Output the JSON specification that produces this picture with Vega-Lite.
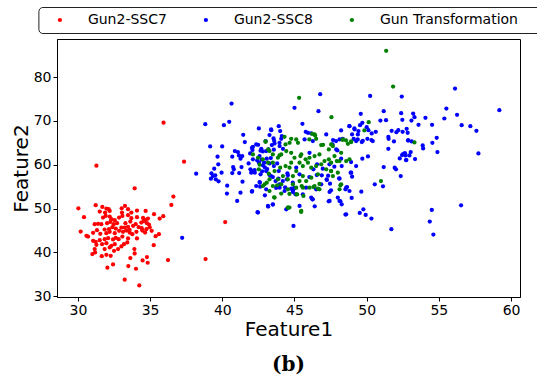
{
"$schema": "https://vega.github.io/schema/vega-lite/v6.json",
"width": 463, "height": 258,
"autosize": {"type": "none"},
"padding": {"left": 57, "top": 39, "right": 17, "bottom": 81},
"background": "white",
"config": {
  "view": {"stroke": "black", "strokeWidth": 1},
  "font": "DejaVu Sans",
  "axis": {"grid": false, "domainColor": "black", "tickColor": "black", "tickSize": 4, "labelFont": "DejaVu Sans", "labelFontSize": 14, "labelColor": "black", "labelPadding": 2, "titleFont": "DejaVu Sans", "titleFontSize": 20, "titleFontWeight": "normal", "titleColor": "black"}
},
"title": {"text": "(b)", "orient": "bottom", "anchor": "middle", "font": "DejaVu Serif", "fontSize": 20, "fontWeight": "bold", "color": "black", "offset": 16},
"data": {"values": [
{"s":"Gun2-SSC7","x":31.23,"y":50.75},{"s":"Gun2-SSC7","x":31.69,"y":50.37},{"s":"Gun2-SSC7","x":32.13,"y":49.84},{"s":"Gun2-SSC7","x":31.97,"y":50.0},{"s":"Gun2-SSC7","x":32.2,"y":49.46},{"s":"Gun2-SSC7","x":31.51,"y":49.3},{"s":"Gun2-SSC7","x":31.88,"y":49.08},{"s":"Gun2-SSC7","x":33.03,"y":50.06},{"s":"Gun2-SSC7","x":33.26,"y":50.59},{"s":"Gun2-SSC7","x":33.47,"y":49.84},{"s":"Gun2-SSC7","x":33.05,"y":49.08},{"s":"Gun2-SSC7","x":33.7,"y":49.08},{"s":"Gun2-SSC7","x":34.09,"y":49.53},{"s":"Gun2-SSC7","x":34.69,"y":49.46},{"s":"Gun2-SSC7","x":33.47,"y":48.47},{"s":"Gun2-SSC7","x":31.74,"y":47.94},{"s":"Gun2-SSC7","x":31.92,"y":48.32},{"s":"Gun2-SSC7","x":32.2,"y":48.17},{"s":"Gun2-SSC7","x":32.32,"y":47.56},{"s":"Gun2-SSC7","x":32.55,"y":47.33},{"s":"Gun2-SSC7","x":32.85,"y":47.94},{"s":"Gun2-SSC7","x":33.08,"y":48.32},{"s":"Gun2-SSC7","x":33.7,"y":47.79},{"s":"Gun2-SSC7","x":34.09,"y":48.01},{"s":"Gun2-SSC7","x":34.51,"y":47.86},{"s":"Gun2-SSC7","x":34.69,"y":47.41},{"s":"Gun2-SSC7","x":34.85,"y":47.71},{"s":"Gun2-SSC7","x":35.27,"y":48.7},{"s":"Gun2-SSC7","x":35.66,"y":47.71},{"s":"Gun2-SSC7","x":35.91,"y":48.24},{"s":"Gun2-SSC7","x":30.42,"y":48.01},{"s":"Gun2-SSC7","x":31.16,"y":46.42},{"s":"Gun2-SSC7","x":31.39,"y":46.5},{"s":"Gun2-SSC7","x":31.62,"y":46.42},{"s":"Gun2-SSC7","x":32.02,"y":46.65},{"s":"Gun2-SSC7","x":32.25,"y":46.95},{"s":"Gun2-SSC7","x":32.48,"y":46.42},{"s":"Gun2-SSC7","x":32.71,"y":46.65},{"s":"Gun2-SSC7","x":33.29,"y":46.65},{"s":"Gun2-SSC7","x":33.63,"y":47.03},{"s":"Gun2-SSC7","x":34.0,"y":46.42},{"s":"Gun2-SSC7","x":34.39,"y":46.8},{"s":"Gun2-SSC7","x":34.55,"y":47.1},{"s":"Gun2-SSC7","x":34.78,"y":46.65},{"s":"Gun2-SSC7","x":34.92,"y":46.34},{"s":"Gun2-SSC7","x":31.32,"y":45.05},{"s":"Gun2-SSC7","x":31.05,"y":44.45},{"s":"Gun2-SSC7","x":31.85,"y":45.21},{"s":"Gun2-SSC7","x":32.15,"y":45.28},{"s":"Gun2-SSC7","x":32.39,"y":45.74},{"s":"Gun2-SSC7","x":32.62,"y":45.43},{"s":"Gun2-SSC7","x":33.01,"y":45.66},{"s":"Gun2-SSC7","x":33.24,"y":45.66},{"s":"Gun2-SSC7","x":33.47,"y":45.81},{"s":"Gun2-SSC7","x":33.58,"y":45.13},{"s":"Gun2-SSC7","x":33.82,"y":46.04},{"s":"Gun2-SSC7","x":34.21,"y":45.74},{"s":"Gun2-SSC7","x":34.42,"y":45.51},{"s":"Gun2-SSC7","x":34.74,"y":45.28},{"s":"Gun2-SSC7","x":34.97,"y":45.74},{"s":"Gun2-SSC7","x":30.19,"y":44.75},{"s":"Gun2-SSC7","x":30.59,"y":43.76},{"s":"Gun2-SSC7","x":31.55,"y":44.22},{"s":"Gun2-SSC7","x":31.97,"y":44.37},{"s":"Gun2-SSC7","x":32.2,"y":44.67},{"s":"Gun2-SSC7","x":32.55,"y":44.37},{"s":"Gun2-SSC7","x":32.85,"y":44.9},{"s":"Gun2-SSC7","x":33.12,"y":44.67},{"s":"Gun2-SSC7","x":33.35,"y":44.98},{"s":"Gun2-SSC7","x":33.58,"y":44.52},{"s":"Gun2-SSC7","x":33.77,"y":44.14},{"s":"Gun2-SSC7","x":34.05,"y":44.67},{"s":"Gun2-SSC7","x":34.46,"y":44.98},{"s":"Gun2-SSC7","x":34.65,"y":44.52},{"s":"Gun2-SSC7","x":35.61,"y":44.14},{"s":"Gun2-SSC7","x":35.38,"y":43.69},{"s":"Gun2-SSC7","x":35.11,"y":44.9},{"s":"Gun2-SSC7","x":31.05,"y":42.62},{"s":"Gun2-SSC7","x":31.23,"y":42.4},{"s":"Gun2-SSC7","x":31.51,"y":42.78},{"s":"Gun2-SSC7","x":31.85,"y":43.0},{"s":"Gun2-SSC7","x":32.09,"y":43.23},{"s":"Gun2-SSC7","x":32.43,"y":42.93},{"s":"Gun2-SSC7","x":32.62,"y":43.31},{"s":"Gun2-SSC7","x":32.82,"y":43.0},{"s":"Gun2-SSC7","x":33.08,"y":43.61},{"s":"Gun2-SSC7","x":33.47,"y":43.16},{"s":"Gun2-SSC7","x":34.09,"y":43.16},{"s":"Gun2-SSC7","x":30.7,"y":43.61},{"s":"Gun2-SSC7","x":31.28,"y":41.71},{"s":"Gun2-SSC7","x":31.67,"y":41.87},{"s":"Gun2-SSC7","x":31.97,"y":42.09},{"s":"Gun2-SSC7","x":32.32,"y":41.49},{"s":"Gun2-SSC7","x":32.2,"y":41.11},{"s":"Gun2-SSC7","x":32.55,"y":41.87},{"s":"Gun2-SSC7","x":32.78,"y":40.73},{"s":"Gun2-SSC7","x":33.01,"y":41.33},{"s":"Gun2-SSC7","x":33.19,"y":41.87},{"s":"Gun2-SSC7","x":33.42,"y":42.25},{"s":"Gun2-SSC7","x":33.91,"y":40.73},{"s":"Gun2-SSC7","x":35.25,"y":41.64},{"s":"Gun2-SSC7","x":31.16,"y":40.73},{"s":"Gun2-SSC7","x":31.85,"y":40.73},{"s":"Gun2-SSC7","x":31.0,"y":39.59},{"s":"Gun2-SSC7","x":31.19,"y":39.97},{"s":"Gun2-SSC7","x":31.65,"y":39.13},{"s":"Gun2-SSC7","x":31.97,"y":39.44},{"s":"Gun2-SSC7","x":32.27,"y":39.21},{"s":"Gun2-SSC7","x":32.5,"y":40.35},{"s":"Gun2-SSC7","x":33.63,"y":38.68},{"s":"Gun2-SSC7","x":33.93,"y":39.74},{"s":"Gun2-SSC7","x":34.78,"y":38.91},{"s":"Gun2-SSC7","x":32.04,"y":36.48},{"s":"Gun2-SSC7","x":32.43,"y":37.24},{"s":"Gun2-SSC7","x":33.49,"y":36.86},{"s":"Gun2-SSC7","x":34.02,"y":36.25},{"s":"Gun2-SSC7","x":34.48,"y":38.15},{"s":"Gun2-SSC7","x":34.83,"y":37.62},{"s":"Gun2-SSC7","x":36.24,"y":38.22},{"s":"Gun2-SSC7","x":33.24,"y":33.75},{"s":"Gun2-SSC7","x":34.25,"y":32.45},{"s":"Gun2-SSC7","x":31.28,"y":59.78},{"s":"Gun2-SSC7","x":37.35,"y":60.69},{"s":"Gun2-SSC7","x":33.93,"y":54.62},{"s":"Gun2-SSC7","x":36.61,"y":52.72},{"s":"Gun2-SSC7","x":36.47,"y":50.82},{"s":"Gun2-SSC7","x":30.03,"y":50.06},{"s":"Gun2-SSC7","x":35.93,"y":69.6},{"s":"Gun2-SSC7","x":40.2,"y":46.9},{"s":"Gun2-SSC7","x":38.84,"y":38.45},
{"s":"Gun2-SSC8","x":46.78,"y":76.1},{"s":"Gun2-SSC8","x":50.24,"y":75.7},{"s":"Gun2-SSC8","x":52.43,"y":75.56},{"s":"Gun2-SSC8","x":56.12,"y":77.38},
{"s":"Gun2-SSC8","x":40.64,"y":73.97},{"s":"Gun2-SSC8","x":38.82,"y":69.26},{"s":"Gun2-SSC8","x":40.11,"y":69.03},{"s":"Gun2-SSC8","x":40.48,"y":69.79},{"s":"Gun2-SSC8","x":41.45,"y":66.83},{"s":"Gun2-SSC8","x":42.53,"y":68.27},{"s":"Gun2-SSC8","x":43.38,"y":68.05},{"s":"Gun2-SSC8","x":43.91,"y":68.8},{"s":"Gun2-SSC8","x":44.01,"y":67.67},{"s":"Gun2-SSC8","x":41.56,"y":65.16},{"s":"Gun2-SSC8","x":42.48,"y":64.55},{"s":"Gun2-SSC8","x":39.16,"y":64.17},{"s":"Gun2-SSC8","x":39.99,"y":64.17},{"s":"Gun2-SSC8","x":40.87,"y":63.11},{"s":"Gun2-SSC8","x":41.08,"y":62.88},{"s":"Gun2-SSC8","x":42.05,"y":63.87},{"s":"Gun2-SSC8","x":42.09,"y":63.34},{"s":"Gun2-SSC8","x":41.93,"y":62.58},{"s":"Gun2-SSC8","x":42.65,"y":63.19},{"s":"Gun2-SSC8","x":42.81,"y":63.04},{"s":"Gun2-SSC8","x":43.2,"y":63.49},{"s":"Gun2-SSC8","x":43.43,"y":64.48},{"s":"Gun2-SSC8","x":43.57,"y":63.42},{"s":"Gun2-SSC8","x":44.08,"y":65.92},{"s":"Gun2-SSC8","x":43.96,"y":65.01},{"s":"Gun2-SSC8","x":39.67,"y":61.82},{"s":"Gun2-SSC8","x":40.69,"y":61.82},{"s":"Gun2-SSC8","x":41.15,"y":62.12},{"s":"Gun2-SSC8","x":41.26,"y":61.37},{"s":"Gun2-SSC8","x":41.38,"y":61.97},{"s":"Gun2-SSC8","x":41.82,"y":60.3},{"s":"Gun2-SSC8","x":42.42,"y":60.99},{"s":"Gun2-SSC8","x":42.72,"y":61.14},{"s":"Gun2-SSC8","x":43.08,"y":61.37},{"s":"Gun2-SSC8","x":43.36,"y":61.52},{"s":"Gun2-SSC8","x":41.33,"y":59.47},{"s":"Gun2-SSC8","x":40.75,"y":59.47},{"s":"Gun2-SSC8","x":40.8,"y":58.94},{"s":"Gun2-SSC8","x":40.69,"y":58.1},{"s":"Gun2-SSC8","x":41.17,"y":58.1},{"s":"Gun2-SSC8","x":41.95,"y":58.94},{"s":"Gun2-SSC8","x":42.07,"y":58.56},{"s":"Gun2-SSC8","x":42.25,"y":58.18},{"s":"Gun2-SSC8","x":42.65,"y":57.8},{"s":"Gun2-SSC8","x":42.76,"y":58.48},{"s":"Gun2-SSC8","x":42.9,"y":60.46},{"s":"Gun2-SSC8","x":42.95,"y":59.39},{"s":"Gun2-SSC8","x":43.11,"y":59.01},{"s":"Gun2-SSC8","x":43.27,"y":60.3},{"s":"Gun2-SSC8","x":43.57,"y":59.7},{"s":"Gun2-SSC8","x":43.8,"y":60.3},{"s":"Gun2-SSC8","x":43.91,"y":58.56},{"s":"Gun2-SSC8","x":39.44,"y":59.09},{"s":"Gun2-SSC8","x":39.72,"y":60.08},{"s":"Gun2-SSC8","x":39.25,"y":58.03},{"s":"Gun2-SSC8","x":39.35,"y":57.42},{"s":"Gun2-SSC8","x":39.51,"y":57.57},{"s":"Gun2-SSC8","x":39.21,"y":56.81},{"s":"Gun2-SSC8","x":39.55,"y":56.66},{"s":"Gun2-SSC8","x":39.74,"y":56.2},{"s":"Gun2-SSC8","x":39.95,"y":58.18},{"s":"Gun2-SSC8","x":38.19,"y":57.95},{"s":"Gun2-SSC8","x":40.34,"y":55.22},{"s":"Gun2-SSC8","x":41.4,"y":56.13},{"s":"Gun2-SSC8","x":42.6,"y":55.9},{"s":"Gun2-SSC8","x":42.62,"y":54.99},{"s":"Gun2-SSC8","x":43.89,"y":56.81},{"s":"Gun2-SSC8","x":43.96,"y":55.52},{"s":"Gun2-SSC8","x":44.19,"y":56.28},{"s":"Gun2-SSC8","x":44.47,"y":56.66},{"s":"Gun2-SSC8","x":44.54,"y":57.57},{"s":"Gun2-SSC8","x":44.35,"y":54.84},{"s":"Gun2-SSC8","x":43.73,"y":54.69},{"s":"Gun2-SSC8","x":44.93,"y":54.38},{"s":"Gun2-SSC8","x":44.88,"y":55.9},{"s":"Gun2-SSC8","x":41.26,"y":53.62},{"s":"Gun2-SSC8","x":42.05,"y":53.85},{"s":"Gun2-SSC8","x":40.32,"y":53.4},{"s":"Gun2-SSC8","x":41.03,"y":51.73},{"s":"Gun2-SSC8","x":42.95,"y":53.02},{"s":"Gun2-SSC8","x":43.18,"y":50.44},{"s":"Gun2-SSC8","x":43.5,"y":50.89},{"s":"Gun2-SSC8","x":42.44,"y":49.15},{"s":"Gun2-SSC8","x":44.93,"y":46.03},{"s":"Gun2-SSC8","x":37.22,"y":43.3},{"s":"Gun2-SSC8","x":45.0,"y":72.98},{"s":"Gun2-SSC8","x":44.12,"y":66.53},{"s":"Gun2-SSC8","x":43.59,"y":65.46},{"s":"Gun2-SSC8","x":44.51,"y":58.03},{"s":"Gun2-SSC8","x":43.38,"y":57.42},
{"s":"Gun2-SSC8","x":46.66,"y":72.22},{"s":"Gun2-SSC8","x":45.55,"y":69.34},{"s":"Gun2-SSC8","x":49.59,"y":71.61},{"s":"Gun2-SSC8","x":51.18,"y":72.22},{"s":"Gun2-SSC8","x":51.34,"y":70.17},{"s":"Gun2-SSC8","x":52.47,"y":70.25},{"s":"Gun2-SSC8","x":49.7,"y":69.56},{"s":"Gun2-SSC8","x":49.54,"y":69.03},{"s":"Gun2-SSC8","x":49.15,"y":68.27},{"s":"Gun2-SSC8","x":49.43,"y":67.67},{"s":"Gun2-SSC8","x":50.0,"y":68.58},{"s":"Gun2-SSC8","x":50.12,"y":67.89},{"s":"Gun2-SSC8","x":50.35,"y":67.13},{"s":"Gun2-SSC8","x":50.63,"y":67.51},{"s":"Gun2-SSC8","x":48.8,"y":68.8},{"s":"Gun2-SSC8","x":48.99,"y":66.91},{"s":"Gun2-SSC8","x":48.23,"y":67.82},{"s":"Gun2-SSC8","x":45.78,"y":67.51},{"s":"Gun2-SSC8","x":50.95,"y":70.09},{"s":"Gun2-SSC8","x":51.73,"y":67.74},{"s":"Gun2-SSC8","x":52.06,"y":67.44},{"s":"Gun2-SSC8","x":52.19,"y":67.89},{"s":"Gun2-SSC8","x":52.49,"y":67.51},{"s":"Gun2-SSC8","x":52.77,"y":68.2},{"s":"Gun2-SSC8","x":52.84,"y":67.29},{"s":"Gun2-SSC8","x":51.5,"y":66.38},{"s":"Gun2-SSC8","x":51.89,"y":65.31},{"s":"Gun2-SSC8","x":51.52,"y":65.92},{"s":"Gun2-SSC8","x":52.86,"y":65.54},{"s":"Gun2-SSC8","x":49.66,"y":65.16},{"s":"Gun2-SSC8","x":49.73,"y":65.46},{"s":"Gun2-SSC8","x":50.33,"y":65.62},{"s":"Gun2-SSC8","x":50.42,"y":65.39},{"s":"Gun2-SSC8","x":50.05,"y":65.92},{"s":"Gun2-SSC8","x":49.38,"y":65.77},{"s":"Gun2-SSC8","x":49.1,"y":65.92},{"s":"Gun2-SSC8","x":48.34,"y":65.92},{"s":"Gun2-SSC8","x":47.67,"y":65.62},{"s":"Gun2-SSC8","x":47.63,"y":64.63},{"s":"Gun2-SSC8","x":47.88,"y":65.39},{"s":"Gun2-SSC8","x":47.97,"y":63.26},{"s":"Gun2-SSC8","x":48.27,"y":59.7},{"s":"Gun2-SSC8","x":48.92,"y":60.61},{"s":"Gun2-SSC8","x":48.89,"y":58.18},{"s":"Gun2-SSC8","x":48.99,"y":57.27},{"s":"Gun2-SSC8","x":49.7,"y":61.37},{"s":"Gun2-SSC8","x":50.09,"y":61.9},{"s":"Gun2-SSC8","x":51.5,"y":63.64},{"s":"Gun2-SSC8","x":51.18,"y":59.47},{"s":"Gun2-SSC8","x":51.94,"y":59.32},{"s":"Gun2-SSC8","x":52.03,"y":58.94},{"s":"Gun2-SSC8","x":52.29,"y":61.44},{"s":"Gun2-SSC8","x":52.52,"y":62.43},{"s":"Gun2-SSC8","x":52.66,"y":62.58},{"s":"Gun2-SSC8","x":52.72,"y":61.06},{"s":"Gun2-SSC8","x":52.96,"y":62.12},{"s":"Gun2-SSC8","x":52.36,"y":57.42},{"s":"Gun2-SSC8","x":50.56,"y":55.52},{"s":"Gun2-SSC8","x":51.13,"y":55.07},{"s":"Gun2-SSC8","x":49.63,"y":53.85},{"s":"Gun2-SSC8","x":48.96,"y":52.41},{"s":"Gun2-SSC8","x":48.18,"y":51.65},{"s":"Gun2-SSC8","x":48.27,"y":50.97},{"s":"Gun2-SSC8","x":47.37,"y":51.65},{"s":"Gun2-SSC8","x":46.24,"y":52.11},{"s":"Gun2-SSC8","x":46.4,"y":50.51},{"s":"Gun2-SSC8","x":48.64,"y":54.91},{"s":"Gun2-SSC8","x":48.53,"y":54.38},{"s":"Gun2-SSC8","x":48.09,"y":56.89},{"s":"Gun2-SSC8","x":47.46,"y":55.67},{"s":"Gun2-SSC8","x":47.53,"y":54.16},{"s":"Gun2-SSC8","x":47.23,"y":56.66},{"s":"Gun2-SSC8","x":47.33,"y":57.5},{"s":"Gun2-SSC8","x":46.89,"y":57.57},{"s":"Gun2-SSC8","x":46.54,"y":57.65},{"s":"Gun2-SSC8","x":46.31,"y":58.94},{"s":"Gun2-SSC8","x":46.03,"y":57.19},{"s":"Gun2-SSC8","x":45.8,"y":54.76},{"s":"Gun2-SSC8","x":44.99,"y":54.69},{"s":"Gun2-SSC8","x":44.88,"y":54.23},{"s":"Gun2-SSC8","x":45.07,"y":53.25},{"s":"Gun2-SSC8","x":48.53,"y":48.61},{"s":"Gun2-SSC8","x":49.52,"y":48.99},{"s":"Gun2-SSC8","x":49.93,"y":48.54},{"s":"Gun2-SSC8","x":49.77,"y":49.83},{"s":"Gun2-SSC8","x":50.33,"y":47.7},{"s":"Gun2-SSC8","x":51.71,"y":45.27},{"s":"Gun2-SSC8","x":48.23,"y":61.37},{"s":"Gun2-SSC8","x":46.96,"y":59.09},{"s":"Gun2-SSC8","x":46.56,"y":60.08},{"s":"Gun2-SSC8","x":47.42,"y":60.08},{"s":"Gun2-SSC8","x":47.76,"y":59.54},
{"s":"Gun2-SSC8","x":59.19,"y":72.45},{"s":"Gun2-SSC8","x":55.52,"y":72.83},{"s":"Gun2-SSC8","x":56.26,"y":71.38},{"s":"Gun2-SSC8","x":52.39,"y":71.76},{"s":"Gun2-SSC8","x":53.22,"y":71.69},{"s":"Gun2-SSC8","x":53.31,"y":70.85},{"s":"Gun2-SSC8","x":53.1,"y":70.09},{"s":"Gun2-SSC8","x":54.07,"y":70.7},{"s":"Gun2-SSC8","x":55.38,"y":70.55},{"s":"Gun2-SSC8","x":53.59,"y":69.11},{"s":"Gun2-SSC8","x":54.53,"y":69.11},{"s":"Gun2-SSC8","x":56.58,"y":69.03},{"s":"Gun2-SSC8","x":57.18,"y":68.8},{"s":"Gun2-SSC8","x":57.6,"y":67.74},{"s":"Gun2-SSC8","x":54.85,"y":66.15},{"s":"Gun2-SSC8","x":54.55,"y":65.01},{"s":"Gun2-SSC8","x":53.88,"y":64.4},{"s":"Gun2-SSC8","x":53.91,"y":63.72},{"s":"Gun2-SSC8","x":52.89,"y":65.54},{"s":"Gun2-SSC8","x":53.12,"y":65.31},{"s":"Gun2-SSC8","x":54.9,"y":62.88},{"s":"Gun2-SSC8","x":53.05,"y":62.88},{"s":"Gun2-SSC8","x":52.62,"y":62.58},{"s":"Gun2-SSC8","x":52.45,"y":62.2},{"s":"Gun2-SSC8","x":52.69,"y":62.12},{"s":"Gun2-SSC8","x":52.75,"y":61.06},{"s":"Gun2-SSC8","x":53.35,"y":61.29},{"s":"Gun2-SSC8","x":57.74,"y":62.58},{"s":"Gun2-SSC8","x":56.54,"y":50.74},{"s":"Gun2-SSC8","x":54.51,"y":49.68},{"s":"Gun2-SSC8","x":54.37,"y":47.02},{"s":"Gun2-SSC8","x":54.62,"y":44.06},
{"s":"Gun2-SSC8","x":43.39,"y":67.89},{"s":"Gun2-SSC8","x":43.27,"y":66.76},{"s":"Gun2-SSC8","x":43.55,"y":66.0},{"s":"Gun2-SSC8","x":43.0,"y":65.39},{"s":"Gun2-SSC8","x":42.35,"y":64.63},{"s":"Gun2-SSC8","x":42.12,"y":64.1},{"s":"Gun2-SSC8","x":42.7,"y":63.64},{"s":"Gun2-SSC8","x":43.04,"y":63.11},{"s":"Gun2-SSC8","x":43.62,"y":64.86},{"s":"Gun2-SSC8","x":43.97,"y":64.25},{"s":"Gun2-SSC8","x":44.2,"y":63.64},{"s":"Gun2-SSC8","x":42.58,"y":61.97},{"s":"Gun2-SSC8","x":42.12,"y":61.22},{"s":"Gun2-SSC8","x":42.54,"y":60.46},{"s":"Gun2-SSC8","x":42.81,"y":59.85},{"s":"Gun2-SSC8","x":42.24,"y":58.79},{"s":"Gun2-SSC8","x":42.0,"y":58.18},{"s":"Gun2-SSC8","x":43.04,"y":58.56},{"s":"Gun2-SSC8","x":43.27,"y":57.65},{"s":"Gun2-SSC8","x":43.5,"y":57.19},{"s":"Gun2-SSC8","x":42.58,"y":56.05},{"s":"Gun2-SSC8","x":42.35,"y":55.14},{"s":"Gun2-SSC8","x":43.04,"y":54.38},{"s":"Gun2-SSC8","x":43.69,"y":56.28},{"s":"Gun2-SSC8","x":43.97,"y":54.76},{"s":"Gun2-SSC8","x":44.31,"y":54.0},{"s":"Gun2-SSC8","x":44.77,"y":54.54},{"s":"Gun2-SSC8","x":44.89,"y":53.78},{"s":"Gun2-SSC8","x":45.58,"y":53.25},{"s":"Gun2-SSC8","x":46.16,"y":52.49},{"s":"Gun2-SSC8","x":46.5,"y":54.38},{"s":"Gun2-SSC8","x":46.85,"y":55.52},{"s":"Gun2-SSC8","x":47.24,"y":56.51},{"s":"Gun2-SSC8","x":47.43,"y":53.78},{"s":"Gun2-SSC8","x":48.0,"y":52.49},{"s":"Gun2-SSC8","x":48.12,"y":56.81},{"s":"Gun2-SSC8","x":48.58,"y":54.76},{"s":"Gun2-SSC8","x":48.81,"y":54.0},{"s":"Gun2-SSC8","x":48.93,"y":58.18},{"s":"Gun2-SSC8","x":49.27,"y":59.7},{"s":"Gun2-SSC8","x":48.81,"y":68.8},{"s":"Gun2-SSC8","x":49.16,"y":68.05},{"s":"Gun2-SSC8","x":49.39,"y":66.91},{"s":"Gun2-SSC8","x":49.27,"y":65.39},{"s":"Gun2-SSC8","x":48.12,"y":65.77},{"s":"Gun2-SSC8","x":47.89,"y":63.49},{"s":"Gun2-SSC8","x":47.2,"y":66.91},{"s":"Gun2-SSC8","x":46.16,"y":67.14},{"s":"Gun2-SSC8","x":46.27,"y":65.39},{"s":"Gun2-SSC8","x":46.04,"y":62.73},{"s":"Gun2-SSC8","x":45.7,"y":65.77},{"s":"Gun2-SSC8","x":45.93,"y":67.29},{"s":"Gun2-SSC8","x":45.12,"y":59.32},{"s":"Gun2-SSC8","x":45.35,"y":57.8},{"s":"Gun2-SSC8","x":44.43,"y":49.83},{"s":"Gun2-SSC8","x":43.5,"y":50.97},{"s":"Gun2-SSC8","x":43.16,"y":50.59},{"s":"Gun2-SSC8","x":42.47,"y":49.07},{"s":"Gun2-SSC8","x":45.35,"y":50.59},{"s":"Gun2-SSC8","x":46.27,"y":52.11},{"s":"Gun2-SSC8","x":47.43,"y":51.73},{"s":"Gun2-SSC8","x":48.12,"y":51.73},{"s":"Gun2-SSC8","x":48.58,"y":48.69},{"s":"Gun2-SSC8","x":42.07,"y":54.0},
{"s":"Gun Transformation","x":51.35,"y":86.0},{"s":"Gun Transformation","x":51.83,"y":77.84},{"s":"Gun Transformation","x":45.32,"y":75.27},{"s":"Gun Transformation","x":53.31,"y":65.08},{"s":"Gun Transformation","x":47.56,"y":70.85},{"s":"Gun Transformation","x":50.14,"y":69.72},{"s":"Gun Transformation","x":49.84,"y":67.82},{"s":"Gun Transformation","x":50.99,"y":56.28},{"s":"Gun Transformation","x":48.92,"y":65.31},{"s":"Gun Transformation","x":48.57,"y":65.54},{"s":"Gun Transformation","x":48.32,"y":65.69},{"s":"Gun Transformation","x":46.98,"y":64.55},{"s":"Gun Transformation","x":47.53,"y":58.56},{"s":"Gun Transformation","x":48.18,"y":55.29},{"s":"Gun Transformation","x":46.73,"y":55.6},{"s":"Gun Transformation","x":46.63,"y":54.54},{"s":"Gun Transformation","x":46.31,"y":54.91},{"s":"Gun Transformation","x":45.5,"y":55.14},{"s":"Gun Transformation","x":45.18,"y":53.25},{"s":"Gun Transformation","x":45.62,"y":52.87},{"s":"Gun Transformation","x":45.46,"y":49.22},{"s":"Gun Transformation","x":44.65,"y":50.21},{"s":"Gun Transformation","x":47.93,"y":60.84},{"s":"Gun Transformation","x":46.22,"y":67.06},{"s":"Gun Transformation","x":46.43,"y":66.68},{"s":"Gun Transformation","x":46.03,"y":65.77},{"s":"Gun Transformation","x":45.41,"y":61.97},
{"s":"Gun Transformation","x":42.99,"y":65.31},{"s":"Gun Transformation","x":43.18,"y":63.49},{"s":"Gun Transformation","x":43.96,"y":62.12},{"s":"Gun Transformation","x":42.58,"y":60.0},{"s":"Gun Transformation","x":42.53,"y":58.94},{"s":"Gun Transformation","x":43.22,"y":57.95},{"s":"Gun Transformation","x":43.27,"y":56.66},{"s":"Gun Transformation","x":43.08,"y":55.9},{"s":"Gun Transformation","x":42.81,"y":55.14},{"s":"Gun Transformation","x":43.5,"y":55.14},{"s":"Gun Transformation","x":43.8,"y":55.29},{"s":"Gun Transformation","x":43.59,"y":52.56},{"s":"Gun Transformation","x":44.56,"y":50.21},{"s":"Gun Transformation","x":44.08,"y":53.4},{"s":"Gun Transformation","x":44.65,"y":53.32},{"s":"Gun Transformation","x":45.14,"y":53.25},
{"s":"Gun Transformation","x":43.0,"y":65.24},{"s":"Gun Transformation","x":44.31,"y":66.38},{"s":"Gun Transformation","x":44.77,"y":65.92},{"s":"Gun Transformation","x":45.12,"y":65.77},{"s":"Gun Transformation","x":45.24,"y":65.01},{"s":"Gun Transformation","x":44.66,"y":65.01},{"s":"Gun Transformation","x":44.38,"y":64.63},{"s":"Gun Transformation","x":46.39,"y":66.91},{"s":"Gun Transformation","x":46.5,"y":65.92},{"s":"Gun Transformation","x":46.85,"y":64.48},{"s":"Gun Transformation","x":47.38,"y":63.49},{"s":"Gun Transformation","x":47.54,"y":64.63},{"s":"Gun Transformation","x":47.66,"y":64.25},{"s":"Gun Transformation","x":48.35,"y":65.77},{"s":"Gun Transformation","x":48.7,"y":64.78},{"s":"Gun Transformation","x":48.93,"y":65.16},{"s":"Gun Transformation","x":48.23,"y":62.73},{"s":"Gun Transformation","x":47.77,"y":61.97},{"s":"Gun Transformation","x":47.38,"y":61.22},{"s":"Gun Transformation","x":47.54,"y":60.46},{"s":"Gun Transformation","x":48.12,"y":60.84},{"s":"Gun Transformation","x":46.73,"y":62.35},{"s":"Gun Transformation","x":46.39,"y":61.97},{"s":"Gun Transformation","x":46.04,"y":61.59},{"s":"Gun Transformation","x":45.77,"y":61.22},{"s":"Gun Transformation","x":45.47,"y":62.35},{"s":"Gun Transformation","x":45.35,"y":60.46},{"s":"Gun Transformation","x":45.0,"y":61.59},{"s":"Gun Transformation","x":44.77,"y":62.73},{"s":"Gun Transformation","x":44.43,"y":63.11},{"s":"Gun Transformation","x":44.08,"y":62.35},{"s":"Gun Transformation","x":43.85,"y":61.59},{"s":"Gun Transformation","x":43.5,"y":60.46},{"s":"Gun Transformation","x":43.16,"y":60.46},{"s":"Gun Transformation","x":42.81,"y":61.22},{"s":"Gun Transformation","x":43.62,"y":58.56},{"s":"Gun Transformation","x":44.01,"y":59.32},{"s":"Gun Transformation","x":44.38,"y":59.7},{"s":"Gun Transformation","x":44.66,"y":59.32},{"s":"Gun Transformation","x":44.77,"y":60.46},{"s":"Gun Transformation","x":45.12,"y":58.56},{"s":"Gun Transformation","x":45.58,"y":59.7},{"s":"Gun Transformation","x":45.93,"y":60.46},{"s":"Gun Transformation","x":46.16,"y":59.32},{"s":"Gun Transformation","x":46.5,"y":59.7},{"s":"Gun Transformation","x":46.85,"y":60.08},{"s":"Gun Transformation","x":47.08,"y":60.84},{"s":"Gun Transformation","x":47.2,"y":58.94},{"s":"Gun Transformation","x":47.54,"y":58.56},{"s":"Gun Transformation","x":48.0,"y":58.18},{"s":"Gun Transformation","x":46.62,"y":57.8},{"s":"Gun Transformation","x":46.16,"y":57.04},{"s":"Gun Transformation","x":45.58,"y":57.42},{"s":"Gun Transformation","x":44.89,"y":57.42},{"s":"Gun Transformation","x":44.54,"y":56.66},{"s":"Gun Transformation","x":44.2,"y":57.42},{"s":"Gun Transformation","x":43.85,"y":56.66},{"s":"Gun Transformation","x":44.08,"y":55.52},{"s":"Gun Transformation","x":44.89,"y":55.52},{"s":"Gun Transformation","x":45.35,"y":56.28},{"s":"Gun Transformation","x":45.81,"y":56.28},{"s":"Gun Transformation","x":46.04,"y":54.76},{"s":"Gun Transformation","x":45.58,"y":54.76},{"s":"Gun Transformation","x":45.12,"y":54.76},{"s":"Gun Transformation","x":44.54,"y":54.38},{"s":"Gun Transformation","x":42.93,"y":55.52},{"s":"Gun Transformation","x":43.27,"y":54.0},{"s":"Gun Transformation","x":43.62,"y":52.49},{"s":"Gun Transformation","x":44.54,"y":50.21},{"s":"Gun Transformation","x":45.47,"y":49.45},{"s":"Gun Transformation","x":46.73,"y":54.38},{"s":"Gun Transformation","x":46.39,"y":55.14},{"s":"Gun Transformation","x":47.66,"y":57.42},{"s":"Gun Transformation","x":48.12,"y":54.38},{"s":"Gun Transformation","x":48.23,"y":55.52},{"s":"Gun Transformation","x":48.58,"y":60.84},{"s":"Gun Transformation","x":48.81,"y":61.22},{"s":"Gun Transformation","x":42.12,"y":62.35},{"s":"Gun Transformation","x":42.47,"y":61.59},{"s":"Gun Transformation","x":43.27,"y":63.11},{"s":"Gun Transformation","x":43.5,"y":62.35}
]},
"mark": {"type": "circle", "size": 18, "opacity": 1},
"encoding": {
  "x": {"field": "x", "type": "quantitative", "scale": {"domain": [28.55, 60.62], "nice": false, "zero": false}, "axis": {"title": "Feature1", "values": [30, 35, 40, 45, 50, 55, 60], "titlePadding": 2}},
  "y": {"field": "y", "type": "quantitative", "scale": {"domain": [29.8, 88.7], "nice": false, "zero": false}, "axis": {"title": "Feature2", "values": [30, 40, 50, 60, 70, 80], "titlePadding": 2}},
  "color": {"field": "s", "type": "nominal", "sort": null,
    "scale": {"domain": ["Gun2-SSC7", "Gun2-SSC8", "Gun Transformation"], "range": ["#ff0000", "#0000ff", "#008000"]},
    "legend": {"orient": "none", "legendX": -18.6, "legendY": -32, "direction": "horizontal", "title": " ", "titleOrient": "right", "titlePadding": 42, "labelFont": "DejaVu Sans", "labelFontSize": 14, "labelColor": "black", "symbolType": "circle", "symbolSize": 18, "symbolStrokeWidth": 0, "symbolOffset": 8.5, "labelOffset": 21, "columnPadding": 23, "padding": 6, "strokeColor": "#222222", "fillColor": "white", "cornerRadius": 4}}
}
}
